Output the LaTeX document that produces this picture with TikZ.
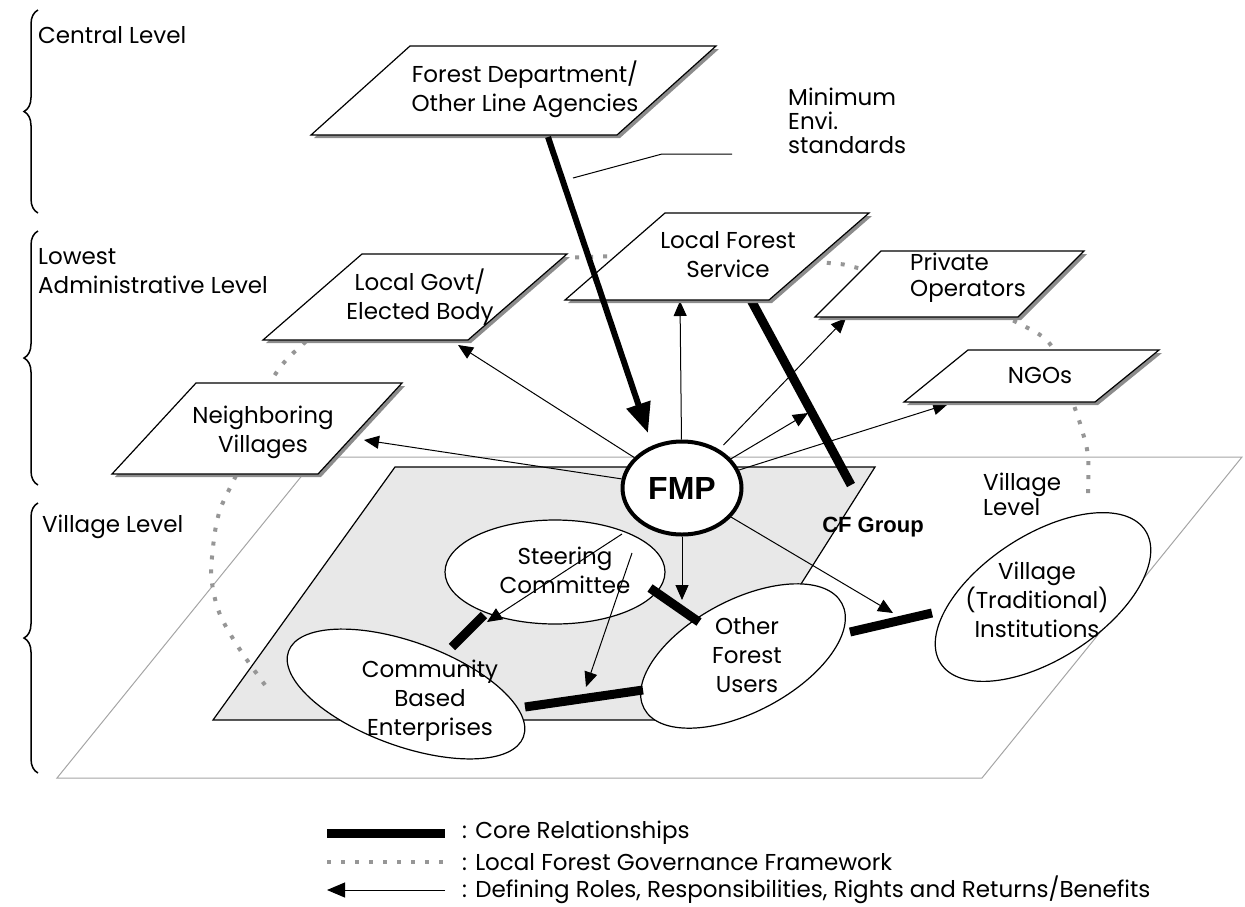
\documentclass[tikz,border=0pt]{standalone}
\usepackage{fontspec}
\setmainfont{Poppins}
\newfontfamily\arialfont{Liberation Sans}
\usetikzlibrary{arrows.meta,decorations.pathreplacing,shapes.geometric}
\definecolor{shadowgray}{RGB}{140,140,140}
\definecolor{dotgray}{RGB}{150,150,150}
\definecolor{planegray}{RGB}{165,165,165}
\definecolor{cffill}{RGB}{232,232,232}
\newcommand\pbox[5]{%
  \fill[shadowgray] ({#1+3},{#2+3}) -- ++(#3,0) -- ++(#5,-#4) -- ++(-#3,0) -- cycle;
  \filldraw[fill=white,draw=black,line width=1.2pt] (#1,#2) -- ++(#3,0) -- ++(#5,-#4) -- ++(-#3,0) -- cycle;}
\begin{document}
\begin{tikzpicture}[x=1pt,y=-1pt,
  lbl/.style={font=\fontsize{23}{29}\selectfont, align=center, inner sep=0pt},
  thin/.style={line width=1pt, -{Triangle[length=15pt,width=13pt]}},
  bigarrow/.style={line width=6pt, -{Triangle[length=30pt,width=24pt]}},
  core/.style={line width=9pt},
  govern/.style={draw=dotgray, line width=4pt, dash pattern=on 4pt off 10pt},
  oval/.style={ellipse, draw, line width=1.2pt, fill=white, inner sep=0pt},
  lvlbrace/.style={decorate, decoration={brace, amplitude=14pt}, line width=1.5pt}]
\useasboundingbox (0,0) rectangle (1245,906);

% level braces
\draw[lvlbrace] (38,213) -- (38,10);
\draw[lvlbrace] (38,485) -- (38,231);
\draw[lvlbrace] (38,773) -- (38,503);
\node[lbl, anchor=west] (lvlC) at (38,35) {Central Level};
\node[lbl, anchor=west, align=left] (lvlA) at (38,271) {Lowest\\Administrative Level};
\node[lbl, anchor=west] (lvlV) at (42,527) {Village Level};

% village plane and CF group plane
\draw[planegray, line width=1pt] (57,778) -- (317,457) -- (1242,457) -- (982,778) -- cycle;
\filldraw[fill=cffill, draw=black, line width=1.2pt] (213,720) -- (395,467) -- (875,467) -- (715,720) -- cycle;

% governance framework
\draw[govern] plot[smooth, tension=0.6] coordinates {(265,685) (247,660) (232,637) (219,612) (212,583) (212,557) (219,513) (237,473) (255,425) (273,378) (302,345) (360,300) (440,270) (520,260) (590,257) (650,255) (730,255) (829,263) (858,268) (940,290) (1018,323) (1053,348) (1072,400) (1082,430) (1088,457) (1088,498)};

% core line LFS -> CF group
\coordinate (lfsB) at (751,300);
\coordinate (cfE) at (851,485);
\draw[core] (lfsB) -- (cfE);

% ellipses
\node[oval, minimum width=220, minimum height=104] (sc) at (555,572) {};
\node[oval, minimum width=250, minimum height=104, rotate=-20] (cbe) at (406,694) {};
\node[oval, minimum width=224, minimum height=112, rotate=28] (ofu) at (743,656) {};
\node[oval, minimum width=244, minimum height=124, rotate=33] (vti) at (1043,597) {};

% FMP
\node[ellipse, draw, line width=4pt, fill=white, minimum width=119, minimum height=93, inner sep=0pt,
      font=\arialfont\bfseries\fontsize{32}{32}\selectfont] (fmp) at (682,488) {FMP};

% tips
\coordinate (tLFS) at (680,301);
\coordinate (tPO) at (846,318);
\coordinate (tMid) at (808,413);
\coordinate (tNGO) at (948,404);
\coordinate (tLG) at (458,345);
\coordinate (tNV) at (364,440);
\coordinate (tOFU) at (682,600);
\coordinate (tVTI) at (893,613);
\draw[thin] (fmp) -- (tLFS);
\draw[thin, shorten <=6pt] (fmp) -- (tPO);
\draw[thin] (fmp) -- (tMid);
\draw[thin] (fmp) -- (tNGO);
\draw[thin] (fmp) -- (tLG);
\draw[thin] (fmp) -- (tNV);
\draw[thin] (fmp) -- (tOFU);
\draw[thin] (fmp) -- (tVTI);

% core relationships
\coordinate (c1a) at (452,647); \coordinate (c1b) at (484,615);
\coordinate (c2a) at (525,707); \coordinate (c2b) at (643,690);
\coordinate (c3a) at (650,588); \coordinate (c3b) at (699,622);
\coordinate (c4a) at (850,632); \coordinate (c4b) at (932,613);
\draw[core] (c1a) -- (c1b);
\draw[core] (c2a) -- (c2b);
\draw[core] (c3a) -- (c3b);
\draw[core] (c4a) -- (c4b);

% arrows from steering committee
\coordinate (s1) at (622,534); \coordinate (s1t) at (487,622);
\coordinate (s2) at (632,553); \coordinate (s2t) at (586,687);
\draw[thin] (s1) -- (s1t);
\draw[thin] (s2) -- (s2t);

% boxes
\pbox{311}{135}{306}{89}{99}
\pbox{263}{340}{205}{86}{99}
\pbox{565}{300}{204}{87}{100}
\pbox{815}{317}{203}{66}{66}
\pbox{904}{402}{191}{52}{64}
\pbox{112}{474}{206}{91}{84}

% box texts
\node[lbl] (fdT) at (525,89) {Forest Department/\\Other Line Agencies};
\node[lbl] (lgT) at (420,297) {Local Govt/\\Elected Body};
\node[lbl] (lfsT) at (728,255) {Local Forest\\Service};
\node[lbl, anchor=west, align=left, font=\fontsize{23}{26}\selectfont] (poT) at (910,278) {Private\\Operators};
\node[lbl] (ngoT) at (1040,375) {NGOs};
\node[lbl] (nvT) at (263,432) {Neighboring\\Villages};

% thick arrow FD -> FMP and callout
\coordinate (fdB) at (548,137);
\coordinate (fmpT) at (648,433);
\draw[bigarrow] (fdB) -- (fmpT);
\coordinate (m1) at (573,178); \coordinate (m2) at (662,154); \coordinate (m3) at (732,154);
\draw[line width=1pt] (m1) -- (m2) -- (m3);
\node[lbl, anchor=west, align=left, font=\fontsize{23}{24}\selectfont] (minT) at (788,121) {Minimum\\Envi.\\standards};

% ellipse texts
\node[lbl] (scT) at (565,570) {Steering\\Committee};
\node[lbl] (cbeT) at (430,701) {Community\\Based\\Enterprises};
\node[lbl] (ofuT) at (747,655) {Other\\Forest\\Users};
\node[lbl] (vtiT) at (1037,600) {Village\\(Traditional)\\Institutions};
\node[lbl, anchor=west, align=left, font=\fontsize{23}{25}\selectfont] (vlT) at (983,494) {Village\\Level};
\node[inner sep=0pt, font=\arialfont\bfseries\fontsize{22}{22}\selectfont] (cfT) at (873,527) {CF Group};

% legend
\coordinate (L1a) at (327,833); \coordinate (L1b) at (445,833);
\coordinate (L2a) at (327,862); \coordinate (L2b) at (445,862);
\coordinate (L3a) at (445,890); \coordinate (L3b) at (327,890);
\draw[line width=9pt] (L1a) -- (L1b);
\draw[govern] (L2a) -- (L2b);
\draw[line width=1pt, -{Triangle[length=18pt,width=15pt]}] (L3a) -- (L3b);
\node[lbl, anchor=west] (leg1) at (462,833) {: Core Relationships};
\node[lbl, anchor=west] (leg2) at (462,862) {: Local Forest Governance Framework};
\node[lbl, anchor=west] (leg3) at (462,890) {: Defining Roles, Responsibilities, Rights and Returns/Benefits};
\end{tikzpicture}
\end{document}
